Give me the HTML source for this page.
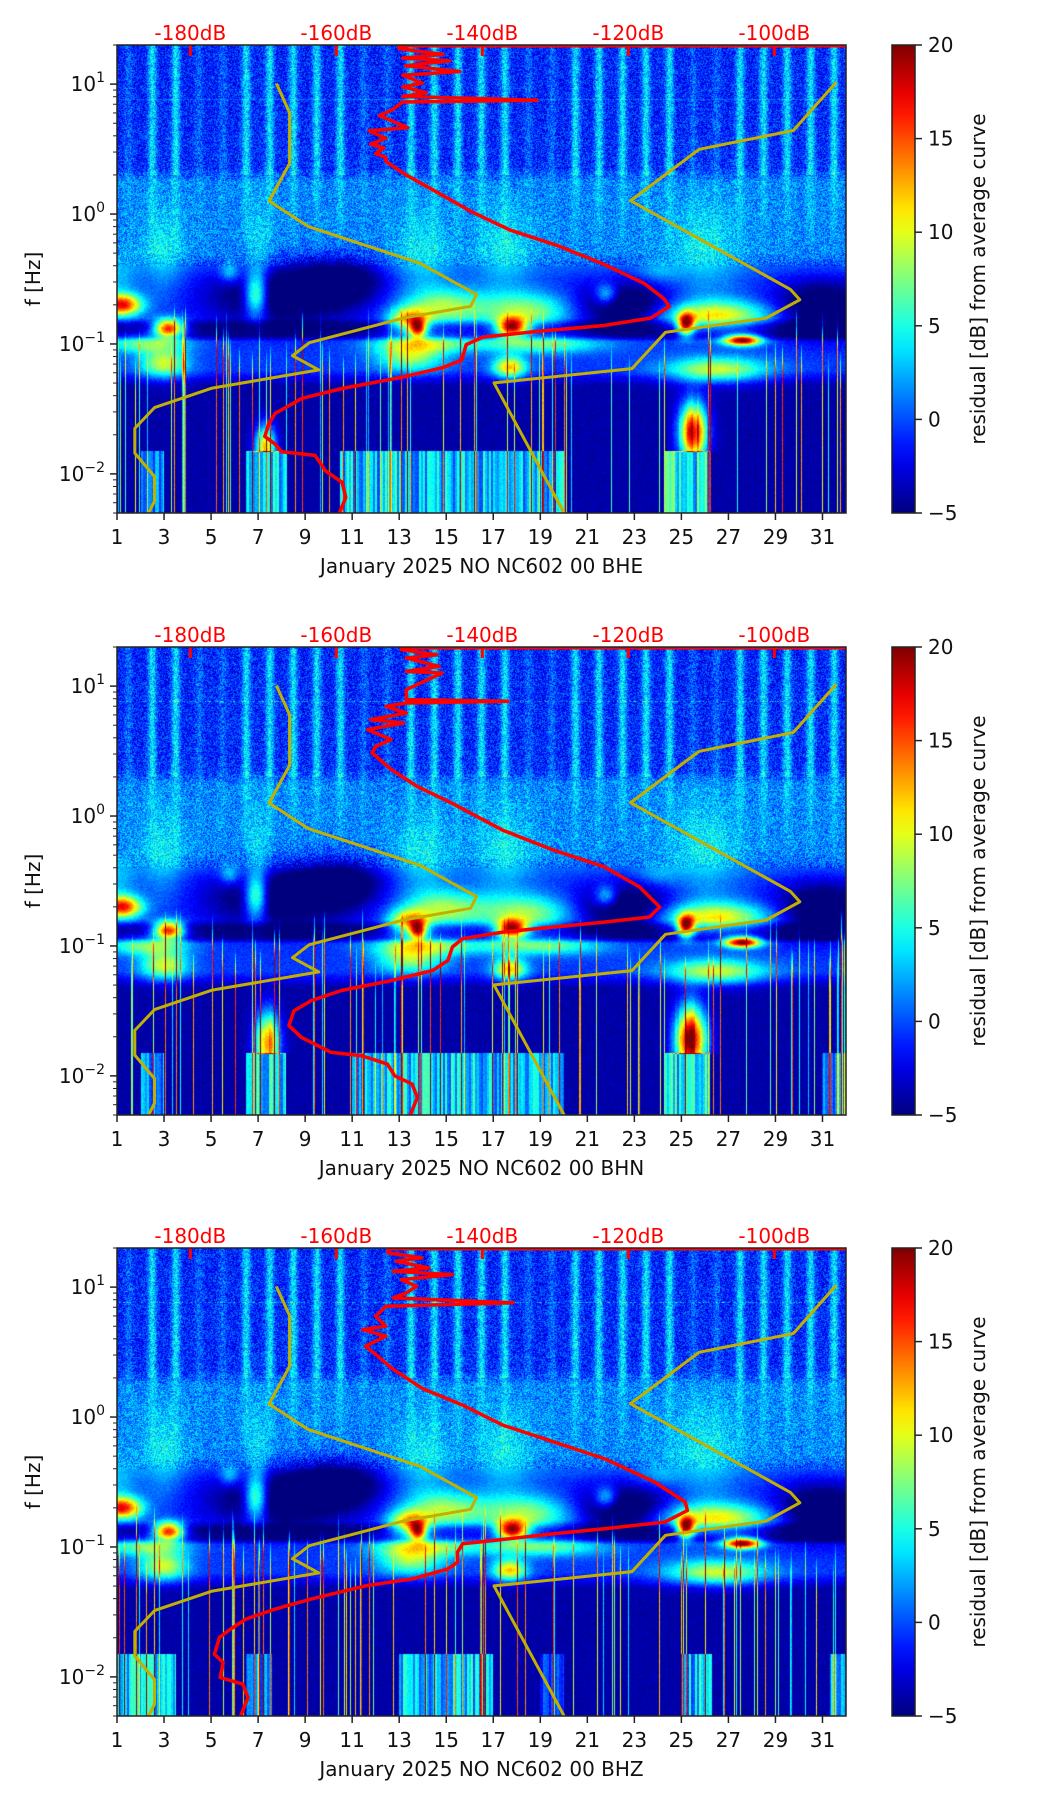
<!DOCTYPE html>
<html><head><meta charset="utf-8">
<style>
html,body{margin:0;padding:0;background:#fff;}
#fig{position:relative;width:1052px;height:1806px;overflow:hidden;font-family:"DejaVu Sans","Liberation Sans",sans-serif;}
canvas{position:absolute;}
svg{position:absolute;left:0;top:0;}
</style></head>
<body>
<div id="fig">
<canvas id="c0" width="729" height="468" style="left:117px;top:45px"></canvas>
<canvas id="c1" width="729" height="468" style="left:117px;top:647px"></canvas>
<canvas id="c2" width="729" height="468" style="left:117px;top:1248px"></canvas>
<svg id="ov" width="1052" height="1806"></svg>
</div>
<script>
// ---- data arrays ----
const dayTicks = [1,3,5,7,9,11,13,15,17,19,21,23,25,27,29,31];
const dbTicks = [-180,-160,-140,-120,-100];
const cbTicks = [20,15,10,5,0,-5];
const yDecades = [1,0,-1,-2];
const channels = ["BHE","BHN","BHZ"];
// noise models (log10 f, dB)
const nlnmLogf = [1.005,0.78,0.39,0.10,-0.094,-0.38,-0.62,-0.71,-0.80,-0.99,-1.09,-1.20,-1.34,-1.49,-1.65,-1.84,-2.02,-2.21,-2.31];
const nlnmDb = [-168.2,-166.4,-166.4,-169.2,-163.9,-148.5,-140.8,-141.6,-150.8,-163.7,-166.0,-162.4,-177.0,-184.9,-187.6,-187.6,-184.9,-184.9,-185.8];
const nhnmLogf = [1.015,0.643,0.498,0.103,-0.58,-0.66,-0.80,-0.91,-1.19,-1.30,-2.31];
const nhnmDb = [-91.5,-97.4,-110.3,-119.7,-97.8,-96.5,-101.1,-114.9,-119.5,-138.4,-128.7];
// average PSD curves per channel
const redELogf = [1.301,1.273,1.229,1.200,1.179,1.141,1.097,1.068,1.008,0.979,0.935,0.905,0.876,0.862,0.803,0.758,0.665,0.641,0.582,0.538,0.509,0.465,0.435,0.405,0.303,0.171,0.024,-0.124,-0.241,-0.388,-0.535,-0.653,-0.712,-0.80,-0.858,-0.903,-0.947,-1.005,-1.123,-1.182,-1.255,-1.343,-1.418,-1.535,-1.623,-1.712,-1.77,-1.829,-1.858,-1.976,-2.065,-2.182,-2.305];
const redEDb = [-151.4,-151.4,-145.4,-150.9,-144.5,-150.5,-143.1,-150.9,-148.2,-150.9,-147.7,-150.9,-132.5,-150.9,-152.3,-154.1,-150.2,-155.5,-153.2,-155.3,-153.5,-154.6,-153.2,-153.2,-150.5,-146.3,-141.7,-136.2,-129.8,-123.3,-117.8,-115.1,-114.4,-116.9,-123.3,-132.5,-139.9,-142.2,-142.8,-145.4,-150.9,-159.2,-164.7,-168.4,-169.3,-169.8,-168.4,-167.5,-162.9,-161.5,-159.2,-158.7,-159.6];
const redNLogf = [1.301,1.28,1.242,1.216,1.152,1.113,1.101,0.973,0.896,0.883,0.870,0.844,0.793,0.742,0.716,0.665,0.588,0.537,0.486,0.355,0.227,0.097,-0.109,-0.263,-0.391,-0.545,-0.70,-0.777,-0.816,-0.854,-0.893,-0.944,-1.008,-1.111,-1.189,-1.266,-1.343,-1.42,-1.498,-1.613,-1.703,-1.819,-1.845,-1.909,-1.999,-2.063,-2.166,-2.308];
const redNDb = [-151.1,-151.1,-146.2,-150.4,-145.9,-150.4,-145.5,-150.4,-150.4,-136.5,-150.4,-153.2,-150.4,-155.3,-150.8,-155.7,-152.5,-154.6,-155.1,-152.4,-148.9,-144.1,-137.2,-130.2,-123.3,-118.5,-115.7,-117.1,-123.3,-130.2,-137.2,-142.7,-144.1,-144.7,-146.8,-152.4,-159.3,-163.4,-165.8,-166.5,-164.8,-160.7,-156.5,-153.0,-152.0,-149.6,-148.9,-149.9];
const redZLogf = [1.301,1.263,1.225,1.199,1.148,1.122,1.096,1.058,1.006,0.956,0.917,0.879,0.853,0.776,0.699,0.673,0.622,0.545,0.468,0.375,0.220,0.092,-0.062,-0.191,-0.320,-0.50,-0.654,-0.719,-0.809,-0.860,-0.899,-0.95,-0.976,-1.04,-1.117,-1.169,-1.246,-1.297,-1.40,-1.477,-1.555,-1.632,-1.696,-1.825,-1.889,-2.005,-2.056,-2.159,-2.30];
const redZDb = [-152.9,-152.9,-148.3,-151.8,-147.3,-152.2,-144.1,-151.1,-149.0,-150.4,-152.2,-135.8,-153.2,-154.6,-153.2,-156.4,-153.2,-156.0,-154.3,-152.4,-148.2,-142.7,-137.2,-130.2,-123.3,-116.4,-112.2,-111.9,-115.0,-123.3,-130.2,-138.5,-142.7,-143.4,-143.4,-144.7,-149.6,-155.8,-163.4,-168.3,-172.4,-174.5,-176.0,-176.7,-175.5,-175.9,-172.8,-172.1,-173.1];
const redLogf = [redELogf, redNLogf, redZLogf];
const redDb = [redEDb, redNDb, redZDb];
// spectrogram features: day, log10 f, spread day, spread logf, residual amount (fraction of colour scale)
const blobDay  = [1.2, 6.9, 3.2, 13.4,13.8,15.0,17.8,18.5,21.8,25.2,26.5,27.6, 3.0,13.5,17.7,26.5, 2.2,14.0,19.0, 8.0,10.5,22.5,31.0, 3.0, 5.8,14.0,17.5,26.0, 1.0,24.0, 7.0];
const blobLogf = [-0.70,-0.62,-0.88,-0.82,-0.88,-0.72,-0.87,-0.75,-0.62,-0.85,-0.78,-0.97,-1.15,-1.10,-1.18,-1.20,-1.00,-1.00,-1.00,-0.62,-0.50,-0.70,-0.72,-0.30,-0.45,-0.35,-0.30,-0.30,-0.50,-0.45,-0.30];
const blobSd   = [0.6,0.35,0.45,0.6,0.25,1.2,0.45,1.4,0.35,0.25,1.7,0.55,0.7,1.0,0.5,1.5,1.2,1.5,2.0,2.2,1.2,1.5,1.5,0.6,0.3,0.8,0.8,1.0,0.6,0.6,0.35];
const blobSl   = [0.06,0.12,0.05,0.07,0.05,0.10,0.05,0.10,0.06,0.06,0.08,0.03,0.08,0.08,0.06,0.07,0.05,0.05,0.05,0.16,0.12,0.13,0.15,0.25,0.06,0.25,0.25,0.30,0.12,0.06,0.3];
const blobAmp  = [0.7,0.45,0.8,0.5,0.6,0.35,0.8,0.35,0.3,0.75,0.45,0.85,0.4,0.35,0.5,0.4,0.3,0.3,0.3,-0.3,-0.25,-0.3,-0.3,0.12,0.2,0.12,0.12,0.12,0.12,0.1,0.1];
// low-frequency bursts per channel: dayCentre, sdDay, logfCentre, sdLogf, amount
const lowColsE = [[25.5,0.4,-1.68,0.16,0.85],[7.3,0.3,-1.8,0.12,0.6]];
const lowColsN = [[25.4,0.45,-1.72,0.18,0.9],[7.4,0.35,-1.75,0.17,0.7]];
const lowColsZ = [];
const lowCols = [lowColsE, lowColsN, lowColsZ];
// floor (<0.015 Hz) brightening: startDay, endDay, amount
const floorE = [[6.5,8.2,0.35],[10.5,20,0.3],[24.3,26.2,0.35],[2,3,0.25]];
const floorN = [[6.5,8.2,0.35],[11,20,0.3],[24.3,26.2,0.35],[2,3,0.25],[31,32,0.2]];
const floorZ = [[1,3.5,0.3],[6.5,7.6,0.25],[13,17,0.3],[19,20,0.15],[25,26.3,0.3],[31.3,32,0.25]];
const floors = [floorE, floorN, floorZ];

// ---- geometry / axes ----
const PL=117, PW=729, PH=468, TOPS=[45,647,1248];
const D0=1, D1=32, LF0=Math.log10(0.005), LF1=Math.log10(20);
const xDay = d => PL + (d-D0)/(D1-D0)*PW;
const yLf = (lf,p) => TOPS[p] + (LF1-lf)/(LF1-LF0)*PH;
const xDb = db => 190.3 + (db+180)*7.3;

function jet(v){
  v=Math.max(0,Math.min(1,v));
  const c=t=>Math.max(0,Math.min(1,1.5-Math.abs(t)));
  return [c(4*v-3)*255|0, c(4*v-2)*255|0, c(4*v-1)*255|0];
}
function hash(a,b){ let h=(a*374761393 + b*668265263)|0; h=(h^(h>>>13))*1274126177|0; h=h^(h>>>16); return ((h>>>0)%100000)/100000; }
const bgLf=[1.31,0.35,0.25,-0.3,-0.5,-0.8,-0.86,-0.94,-0.98,-1.2,-1.32,-2.31];
const bgV =[0.15,0.16,0.25,0.26,0.19,0.17,0.03,0.03,0.18,0.18,0.04,0.04];
function bg(lf){
  for(let i=0;i<bgLf.length-1;i++){
    if(lf<=bgLf[i] && lf>=bgLf[i+1]){const t=(bgLf[i]-lf)/(bgLf[i]-bgLf[i+1]);return bgV[i]+(bgV[i+1]-bgV[i])*t;}
  }
  return 0.04;
}
const weekend=[1,4,5,11,12,18,19,25,26];
function drawSpec(p){
  const cv=document.getElementById('c'+p), ctx=cv.getContext('2d');
  const img=ctx.createImageData(PW,PH), dat=img.data;
  const colS=[], colTop=[], colVar=[];
  for(let ix=0;ix<PW;ix++){
    const h=hash(ix*3+1,p+11);
    colS.push(h<0.1?(0.25+0.55*hash(ix,p+99)):0);
    colTop.push(-0.95-0.45*hash(ix+5,p+3));
    colVar.push(0.5+0.9*hash(ix>>1,p+41));
  }
  for(let iy=0;iy<PH;iy++){
    const lf=LF1-(iy+0.5)/PH*(LF1-LF0);
    const base=bg(lf);
    for(let ix=0;ix<PW;ix++){
      const d=D0+(ix+0.5)/PW*(D1-D0);
      let v=base;
      const di=Math.floor(d), fr=d-di-0.5;
      const wk=weekend.indexOf(di)>=0?0.07:0.2;
      const sg=Math.exp(-fr*fr/(2*0.13*0.13));
      if(lf>0.3) v+=wk*sg; else if(lf>-0.4) v+=wk*0.45*sg*((lf+0.4)/0.7);
      if(lf>0.3 && Math.abs(lf-0.88)<0.006 && hash(ix,iy)<0.4) v+=0.15;
      for(let k=0;k<blobDay.length;k++){
        const dd=(d-blobDay[k])/blobSd[k], dl=(lf-blobLogf[k])/blobSl[k];
        const e=dd*dd+dl*dl; if(e<14) v+=blobAmp[k]*Math.exp(-e/2);
      }
      if(lf<-1.82){ for(const f of floors[p]){ if(d>=f[0]&&d<=f[1]) v+=f[2]*colVar[ix]; } }
      for(const c of lowCols[p]){ const dd=(d-c[0])/c[1], dl=(lf-c[2])/c[3]; const e=dd*dd+dl*dl; if(e<12 && lf>-1.83) v+=c[4]*Math.exp(-e/2)*(0.8+0.3*colVar[ix]); }
      const s=colS[ix];
      if(s>0 && lf<colTop[ix]+0.3){ const t=Math.min(1,(colTop[ix]+0.3-lf)/0.3); v+=s*t; }
      v+=(hash(ix,iy+p*1000)-0.5)*(lf>-0.4?0.2:0.06);
      const col=jet(v), o=(iy*PW+ix)*4;
      dat[o]=col[0];dat[o+1]=col[1];dat[o+2]=col[2];dat[o+3]=255;
    }
  }
  ctx.putImageData(img,0,0);
}
for(let p=0;p<3;p++) drawSpec(p);

// ---- SVG overlay ----
const NS='http://www.w3.org/2000/svg', svg=document.getElementById('ov');
function mk(tag,attrs,parent){const e=document.createElementNS(NS,tag);for(const k in attrs)e.setAttribute(k,attrs[k]);(parent||svg).appendChild(e);return e;}
const defs=mk('defs',{});
const lg=mk('linearGradient',{id:'jet',x1:0,y1:1,x2:0,y2:0},defs);
for(let i=0;i<=20;i++){const c=jet(i/20);mk('stop',{offset:(i*5)+'%','stop-color':`rgb(${c[0]},${c[1]},${c[2]})`},lg);}

for(let p=0;p<3;p++){
  const T=TOPS[p], B=T+PH;
  const g=mk('g',{});
  
  
  const cp=mk('clipPath',{id:'clip'+p},defs); mk('rect',{x:PL,y:T,width:PW,height:PH},cp);
  const lines=mk('g',{'clip-path':`url(#clip${p})`},g);
  const mkPath=(lfA,dbA)=>lfA.map((lf,i)=>(i?'L':'M')+xDb(dbA[i]).toFixed(1)+','+yLf(lf,p).toFixed(1)).join('');
  const nl=mk('path',{d:mkPath(nlnmLogf,nlnmDb),fill:'none',stroke:'#c2b000','stroke-width':3,'stroke-linejoin':'round'},lines);
   
  const nh=mk('path',{d:mkPath(nhnmLogf,nhnmDb),fill:'none',stroke:'#c2b000','stroke-width':3,'stroke-linejoin':'round'},lines);
   
  const tl=mk('line',{x1:xDb(redDb[p][0]),y1:T+1,x2:PL+PW,y2:T+1,stroke:'#ff0000','stroke-width':3},lines);
   
  dbTicks.forEach(db=>{const r=mk('rect',{x:xDb(db)-1.5,y:T,width:3,height:11,fill:'#ff0000'},g);
     
    const t=mk('text',{x:xDb(db),y:T-5,'text-anchor':'middle','font-size':20,fill:'#ff0000'},g); t.textContent=db+'dB';
     });
  const rc=mk('path',{d:mkPath(redLogf[p],redDb[p]),fill:'none',stroke:'#ff0000','stroke-width':3.5,'stroke-linejoin':'round'},lines);
   
  const fr=mk('rect',{x:PL,y:T,width:PW,height:PH,fill:'none',stroke:'#222','stroke-width':1.5},g);
   
  dayTicks.forEach(d=>{const x=xDay(d);mk('line',{x1:x,y1:B,x2:x,y2:B+7,stroke:'#222','stroke-width':1.5},g);
    const t=mk('text',{x:x,y:B+31,'text-anchor':'middle','font-size':20,fill:'#111'},g);t.textContent=d;
     });
  for(let dec=-3;dec<=1;dec++) for(let m=1;m<10;m++){
    const lf=dec+Math.log10(m); if(lf<LF0-1e-9||lf>LF1+1e-9) continue;
    const y=yLf(lf,p); mk('line',{x1:PL-(m==1?7:4),y1:y,x2:PL,y2:y,stroke:'#222','stroke-width':m==1?1.5:1},g);
  }
  yDecades.forEach(e=>{const y=yLf(e,p);
    const t=mk('text',{x:PL-12,y:y+7,'text-anchor':'end','font-size':20,fill:'#111'},g);
    const a=mk('tspan',{},t);a.textContent='10';
    const b=mk('tspan',{dy:-9,'font-size':14},t);b.textContent=e<0?'\u2212'+(-e):String(e);
     });
  const yl=mk('text',{x:0,y:0,'text-anchor':'middle','font-size':20,fill:'#111',transform:`translate(40,${T+PH/2}) rotate(-90)`},g);
  yl.textContent='f [Hz]';  
  const xl=mk('text',{x:PL+PW/2,y:B+60,'text-anchor':'middle','font-size':20,fill:'#111'},g);
  xl.textContent='January 2025 NO NC602 00 '+channels[p];  
  const cb=mk('rect',{x:892,y:T,width:23,height:PH,fill:'url(#jet)',stroke:'#222','stroke-width':1.5},g);
   
  cbTicks.forEach(v=>{const y=T+(20-v)/25*PH;mk('line',{x1:915,y1:y,x2:922,y2:y,stroke:'#222','stroke-width':1.5},g);
    const t=mk('text',{x:928,y:y+7,'font-size':20,fill:'#111'},g);t.textContent=v<0?'\u2212'+(-v):String(v);
     });
  const cl=mk('text',{x:0,y:0,'text-anchor':'middle','font-size':20,fill:'#111',transform:`translate(985,${T+PH/2}) rotate(-90)`},g);
  cl.textContent='residual [dB] from average curve';  
}
</script>
</body></html>
